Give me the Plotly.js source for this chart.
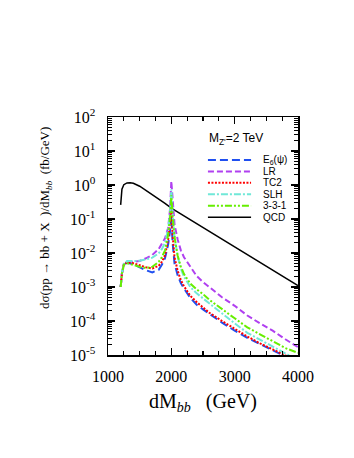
<!DOCTYPE html>
<html>
<head>
<meta charset="utf-8">
<script src="https://cdn.plot.ly/plotly-3.0.1.min.js"></script>
<style>
  html, body { margin: 0; padding: 0; background: #fff; }
  #chart { width: 354px; height: 458px; }
</style>
</head>
<body>
<div id="chart"></div>
<script>
// invariant mass grid (GeV) for the Z' models
const massBSM = [1200, 1220, 1250, 1300, 1400, 1500, 1600, 1700, 1800, 1850, 1900, 1950, 1980, 2000,
  2020, 2050, 2100, 2150, 2200, 2300, 2400, 2500, 2600, 2800, 3000, 3200, 3400, 3600, 3800, 4000];

// dσ/dM (fb/GeV)
const sigE6 = [1e-3, 2.5e-3, 4.5e-3, 5.2e-3, 4.7e-3, 3.8e-3, 3.1e-3, 2.7e-3, 3.2e-3, 4.5e-3, 7e-3, 0.018, 0.045, 0.12,
  0.02, 5e-3, 2.2e-3, 1.3e-3, 9e-4, 4.8e-4, 3e-4, 2.2e-4, 1.6e-4, 9e-5, 5.2e-5, 3.2e-5, 2.1e-5, 1.35e-5, 9e-6, 6e-6];
const sigLR = [1e-3, 2.6e-3, 4.8e-3, 5.5e-3, 5.5e-3, 5.8e-3, 7e-3, 8.8e-3, 0.013, 0.018, 0.027, 0.055, 0.2, 1.3,
  0.3, 0.07, 0.025, 0.012, 7.5e-3, 3.8e-3, 2.1e-3, 1.4e-3, 1e-3, 5e-4, 2.8e-4, 1.45e-4, 8.5e-5, 5.2e-5, 2.9e-5, 1.7e-5];
const sigTC2 = [1e-3, 2.5e-3, 4.5e-3, 5.3e-3, 5e-3, 4.3e-3, 3.8e-3, 3.5e-3, 4.2e-3, 5.5e-3, 8.5e-3, 0.025, 0.07, 0.2,
  0.035, 7.5e-3, 3e-3, 1.6e-3, 1.05e-3, 5.5e-4, 3.6e-4, 2.5e-4, 1.75e-4, 1e-4, 5.8e-5, 3.5e-5, 2.2e-5, 1.45e-5, 9.5e-6, 6.5e-6];
const sigSLH = [1e-3, 2.6e-3, 4.8e-3, 5.8e-3, 5.8e-3, 5.9e-3, 6.5e-3, 7.3e-3, 9.8e-3, 0.013, 0.02, 0.05, 0.16, 0.75,
  0.15, 0.03, 8e-3, 3.5e-3, 2e-3, 1e-3, 6.5e-4, 4.6e-4, 3.2e-4, 1.6e-4, 8.5e-5, 4.5e-5, 2.8e-5, 1.7e-5, 1.05e-5, 7e-6];
const sig331 = [1e-3, 2.5e-3, 4.5e-3, 5e-3, 4.5e-3, 3.9e-3, 3.6e-3, 3.9e-3, 5.5e-3, 7.5e-3, 0.012, 0.035, 0.11, 0.5,
  0.12, 0.03, 8.3e-3, 4e-3, 2.4e-3, 1.25e-3, 8.5e-4, 6.2e-4, 4.2e-4, 2.2e-4, 1.2e-4, 6.5e-5, 4e-5, 2.5e-5, 1.6e-5, 1.15e-5];

// QCD background
const massQCD = [1200, 1220, 1250, 1300, 1350, 1400, 1500, 1600, 1700, 1800, 1900, 2000,
  2200, 2400, 2600, 2800, 3000, 3200, 3400, 3600, 3800, 4000];
const sigQCD = [0.26, 0.75, 1.02, 1.15, 1.17, 1.13, 0.92, 0.7, 0.53, 0.4, 0.29, 0.21,
  0.125, 0.074, 0.044, 0.026, 0.0155, 0.0092, 0.0055, 0.0032, 0.0019, 0.0011];

const seriesNames = ['E<sub>6</sub>(ψ)', 'LR', 'TC2', 'SLH', '3-3-1', 'QCD'];
const seriesColors = ['#1f4ff0', '#b040f0', '#ff0000', '#70e8d8', '#66ee00', '#000000'];
const seriesDash = ['8px,4px', '6px,3px', '2px,1.5px', '7px,2px,2px,2px', '7px,2px,2px,2px,2px,2px', 'solid'];
const seriesWidth = [2, 2, 2, 2, 2, 1.5];

const yTickVals = [1e-5, 1e-4, 1e-3, 1e-2, 1e-1, 1, 10, 100];
const yTickText = ['10<sup>-5</sup>', '10<sup>-4</sup>', '10<sup>-3</sup>', '10<sup>-2</sup>',
  '10<sup>-1</sup>', '10<sup>0</sup>', '10<sup>1</sup>', '10<sup>2</sup>'];
const xTickVals = [1000, 2000, 3000, 4000];
const xTickText = ['1000', '2000', '3000', '4000'];

// minor log ticks 2..9 × 10^k
const yMinor = [];
for (let k = -5; k < 2; k++) for (let m = 2; m <= 9; m++) yMinor.push(m * Math.pow(10, k));

const ys = [sigE6, sigLR, sigTC2, sigSLH, sig331, sigQCD];
const traces = ys.map((y, i) => ({
  x: i === 5 ? massQCD : massBSM,
  y: y,
  mode: 'lines',
  name: seriesNames[i],
  showlegend: false,
  line: { color: seriesColors[i], dash: seriesDash[i], width: seriesWidth[i] },
  hoverinfo: 'skip'
}));
// QCD drawn first so the models sit on top, like the original
traces.unshift(traces.pop());

const serif = "'Liberation Serif', 'Times New Roman', serif";
const sans = "'Liberation Sans', Arial, sans-serif";

// hand-built key: tight row spacing the plotly legend can't do
const keyTop = 0.8193, keyStep = 0.048;
const shapes = [], annotations = [];
seriesNames.forEach((nm, i) => {
  const yy = keyTop - i * keyStep;
  shapes.push({ type: 'line', xref: 'paper', yref: 'paper', x0: 0.526, x1: 0.753, y0: yy, y1: yy,
    line: { color: seriesColors[i], width: seriesWidth[i], dash: seriesDash[i] } });
  annotations.push({ xref: 'paper', yref: 'paper', x: 0.805, y: yy, xanchor: 'left', yanchor: 'middle',
    text: nm, showarrow: false, font: { family: sans, size: 10, color: '#000' } });
});
annotations.push({ xref: 'paper', yref: 'paper', x: 0.52, y: 0.9076, xanchor: 'left', yanchor: 'middle',
  text: "M<sub>Z'</sub>=2 TeV", showarrow: false, font: { family: sans, size: 12, color: '#000' } });
annotations.push({ xref: 'paper', yref: 'paper', x: -0.326, y: 0.576, xanchor: 'center', yanchor: 'middle',
  textangle: -90, showarrow: false,
  text: 'dσ(pp → bb + X  )/dM<sub><i>bb</i></sub>  (fb/GeV)',
  font: { family: serif, size: 13, color: '#000' } });

const axisBase = {
  showline: true, linecolor: '#000', linewidth: 1.5, mirror: 'ticks',
  ticks: 'inside', ticklen: 7, tickwidth: 1.3, tickcolor: '#000',
  showgrid: false, zeroline: false,
  tickfont: { family: serif, size: 16, color: '#000' }
};

const layout = {
  width: 354, height: 458,
  margin: { l: 108, r: 56, t: 117, b: 103 },
  paper_bgcolor: '#fff', plot_bgcolor: '#fff',
  showlegend: false,
  xaxis: {
    ...axisBase, range: [1000, 4000],
    tickmode: 'array', tickvals: xTickVals, ticktext: xTickText,
    minor: { ticks: 'inside', dtick: 250, ticklen: 4, tickwidth: 1.2, tickcolor: '#000', showgrid: false },
    ticklabelstandoff: 6,
    title: { text: 'dM<sub><i>bb</i></sub>   (GeV)', font: { family: serif, size: 20, color: '#000' }, standoff: 10 }
  },
  yaxis: {
    ...axisBase, type: 'log', range: [-5, 2],
    tickmode: 'array', tickvals: yTickVals, ticktext: yTickText,
    minor: { ticks: 'inside', tickvals: yMinor, ticklen: 4, tickwidth: 1.2, tickcolor: '#000', showgrid: false },
    ticklabelstandoff: 8
  },
  shapes: shapes,
  annotations: annotations
};

Plotly.newPlot('chart', traces, layout, { staticPlot: true, displayModeBar: false });
</script>
</body>
</html>
